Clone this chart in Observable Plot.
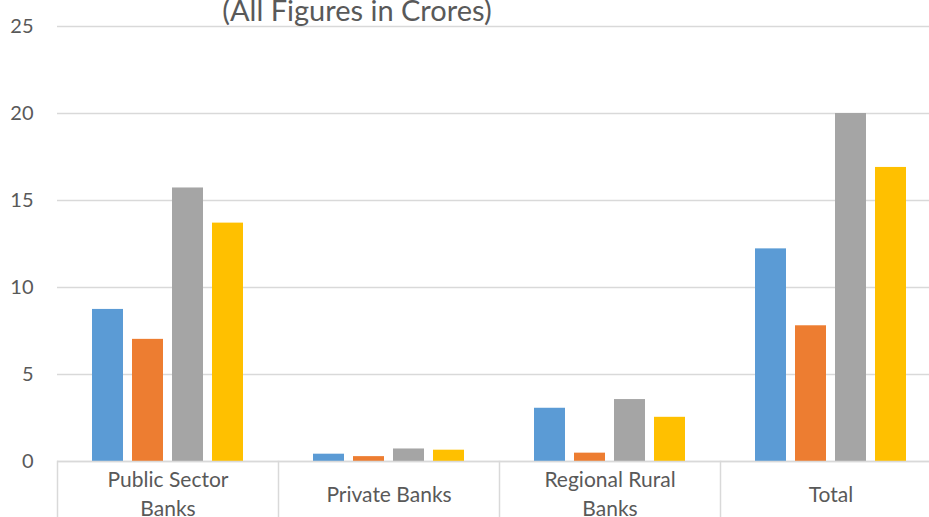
<!DOCTYPE html>
<html>
<head>
<meta charset="utf-8">
<script src="https://cdn.jsdelivr.net/npm/d3@7"></script>
<script src="https://cdn.jsdelivr.net/npm/@observablehq/plot@0.6"></script>
<style>
  html, body { margin: 0; padding: 0; background: #fff; overflow: hidden; width: 929px; height: 517px; }
  #wrap { position: relative; width: 929px; height: 517px; overflow: hidden; }
  #title { position: absolute; left: 357px; top: -5px; transform: translateX(-50%); font-family: Lato, sans-serif; font-size: 29px; color: #595959; white-space: nowrap; line-height: 1; }
  #chart { position: absolute; left: 0; top: 0; }
  #chart svg { max-width: none !important; }
</style>
</head>
<body>
<div id="wrap">
  <div id="chart"></div>
  <div id="title">(All Figures in Crores)</div>
</div>
<script>
const categories = ["Public Sector Banks", "Private Banks", "Regional Rural Banks", "Total"];
const categoryLabels = ["Public Sector\nBanks", "Private Banks", "Regional Rural\nBanks", "Total"];
const series = ["Series 1", "Series 2", "Series 3", "Series 4"];
const series1 = [8.74, 0.42, 3.06, 12.22];
const series2 = [7.02, 0.28, 0.48, 7.80];
const series3 = [15.72, 0.72, 3.56, 20.00];
const series4 = [13.70, 0.65, 2.54, 16.90];
const colors = ["#5b9bd5", "#ed7d31", "#a5a5a5", "#ffc000"];
const yTicks = [0, 5, 10, 15, 20, 25];

const seriesValues = [series1, series2, series3, series4];
const data = categories.flatMap((c, i) => series.map((s, j) => ({category: c, series: s, value: seriesValues[j][i]})));

const W = 941, H = 517, mL = 57, mR = 0, mT = 26, mB = 56;
const plotH = H - mT - mB;
const gridColor = "#d9d9d9";

const chart = Plot.plot({
  width: W, height: H,
  marginLeft: mL, marginRight: mR, marginTop: mT, marginBottom: mB,
  style: {fontFamily: "Lato, sans-serif", fontSize: "20px", color: "#595959", background: "white", overflow: "visible", maxWidth: "none"},
  fx: {domain: categories, padding: 0, label: null},
  x: {domain: series, paddingInner: 0.225, paddingOuter: 0.875, axis: null},
  y: {domain: [0, 25], ticks: yTicks, label: null},
  color: {domain: series, range: colors},
  marks: [
    Plot.gridY(yTicks, {stroke: gridColor, strokeOpacity: 1, strokeWidth: 1.5}),
    Plot.barY(data, {fx: "category", x: "series", y: "value", fill: "series"}),
    Plot.ruleY([0], {stroke: gridColor, strokeWidth: 1.5}),
    Plot.frame({anchor: "left", stroke: gridColor, strokeWidth: 1.5, insetTop: plotH, insetBottom: -mB}),
    Plot.axisY(yTicks, {tickSize: 0, tickPadding: 24, fontSize: 20, fill: "#595959", label: null}),
    Plot.axisFx({anchor: "bottom", tickSize: 0, tickPadding: 31, lineAnchor: "middle", lineHeight: 29 / 21, fontSize: 21, fill: "#595959", label: null,
      tickFormat: c => categoryLabels[categories.indexOf(c)]})
  ]
});
document.getElementById("chart").appendChild(chart);
</script>
</body>
</html>
